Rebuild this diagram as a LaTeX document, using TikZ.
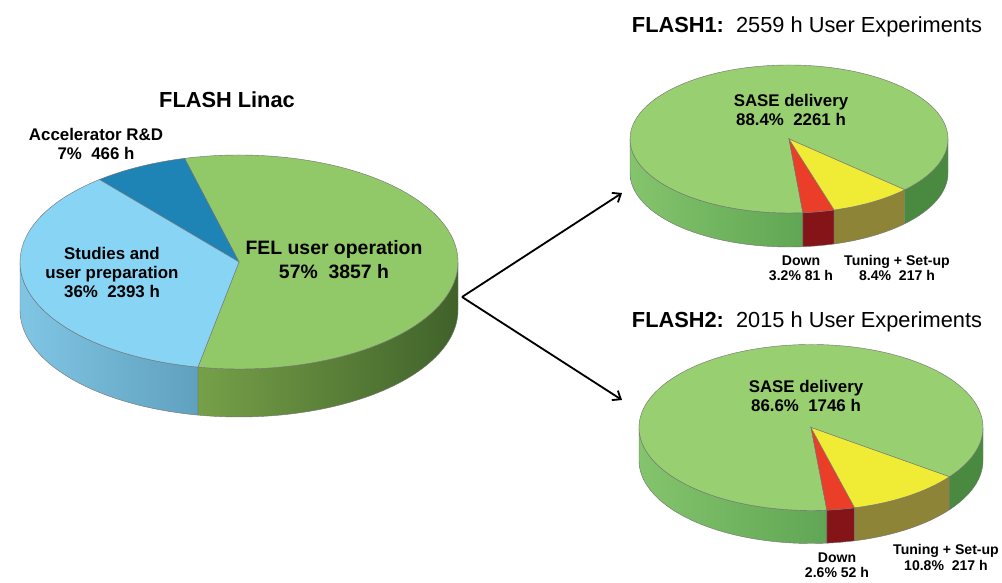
\documentclass[tikz,border=0pt]{standalone}
\usepackage{fontspec}
\setmainfont{Liberation Sans}
\usepackage{xcolor}
\usetikzlibrary{arrows.meta}
\definecolor{verde}{RGB}{146,201,104}
\definecolor{verdeclaro}{RGB}{152,207,112}
\definecolor{celeste}{RGB}{136,212,245}
\definecolor{azul}{RGB}{30,132,182}
\definecolor{rojo}{RGB}{234,62,40}
\definecolor{amarillo}{RGB}{240,235,52}
\definecolor{ladoceleste1}{RGB}{128,198,228}
\definecolor{ladoceleste2}{RGB}{88,152,182}
\definecolor{ladoverde1}{RGB}{118,160,72}
\definecolor{ladoverde2}{RGB}{64,98,42}
\definecolor{ladoclaro1}{RGB}{132,196,108}
\definecolor{ladoclaro2}{RGB}{96,166,84}
\definecolor{ladooscuro}{RGB}{74,138,64}
\definecolor{rojooscuro}{RGB}{132,20,24}
\definecolor{oliva}{RGB}{142,132,56}
% porcion de la tapa: centro, rx, ry, inicio, fin, color
\newcommand{\cuna}[6]{\filldraw[fill=#6, borde] (#1) -- ++(#4:#2 and #3)
  arc[start angle=#4, end angle=#5, x radius=#2, y radius=#3] -- cycle;}
% lado del cilindro: centro, rx, ry, alto, inicio, fin, relleno
\newcommand{\lado}[7]{\path[#7, borde] (#1) ++(#5:#2 and #3)
  arc[start angle=#5, end angle=#6, x radius=#2, y radius=#3] -- ++(0,-#4)
  arc[start angle=#6, end angle=#5, x radius=#2, y radius=#3] -- cycle;}

\begin{document}
\begin{tikzpicture}[x=0.025cm, y=0.025cm, ->, >={Straight Barb[length=5pt, width=8pt]},
  borde/.style={draw=black!55, line width=0.3pt},
  titulo/.style={font=\fontsize{15.5}{18}\selectfont},
  grande/.style={align=center, font=\bfseries\fontsize{13.8}{17}\selectfont},
  medio/.style={align=center, font=\bfseries\fontsize{12}{13.8}\selectfont},
  chico/.style={align=center, font=\bfseries\fontsize{10}{10.8}\selectfont},
  flecha/.style={line width=1.3pt}]
\useasboundingbox (0,0) rectangle (1002,583);

% Tarta FLASH Linac
\coordinate (c0) at (239,321);
\lado{c0}{219}{107}{48}{180}{259.2}{left color=ladoceleste1, right color=ladoceleste2}
\lado{c0}{219}{107}{48}{259.2}{360}{left color=ladoverde1, right color=ladoverde2}
\cuna{c0}{219}{107}{-100.8}{104.4}{verde}
\cuna{c0}{219}{107}{104.4}{129.6}{azul}
\cuna{c0}{219}{107}{129.6}{259.2}{celeste}

% Tarta FLASH1
\coordinate (c1) at (789,444);
\lado{c1}{159}{74}{34}{180}{275}{left color=ladoclaro1, right color=ladoclaro2}
\lado{c1}{159}{74}{34}{275}{286.5}{fill=rojooscuro}
\lado{c1}{159}{74}{34}{286.5}{316.7}{fill=oliva}
\lado{c1}{159}{74}{34}{316.7}{360}{fill=ladooscuro}
\cuna{c1}{159}{74}{-43.3}{275}{verdeclaro}
\cuna{c1}{159}{74}{-85}{-73.5}{rojo}
\cuna{c1}{159}{74}{-73.5}{-43.3}{amarillo}

% Tarta FLASH2
\coordinate (c2) at (811,155.5);
\lado{c2}{172}{83}{33}{180}{275.3}{left color=ladoclaro1, right color=ladoclaro2}
\lado{c2}{172}{83}{33}{275.3}{284.7}{fill=rojooscuro}
\lado{c2}{172}{83}{33}{284.7}{323.6}{fill=oliva}
\lado{c2}{172}{83}{33}{323.6}{360}{fill=ladooscuro}
\cuna{c2}{172}{83}{-36.4}{275.3}{verdeclaro}
\cuna{c2}{172}{83}{-84.7}{-75.3}{rojo}
\cuna{c2}{172}{83}{-75.3}{-36.4}{amarillo}

% Textos
\node[titulo, font=\bfseries\fontsize{15.5}{18}\selectfont] (linac) at (227,483) {FLASH Linac};
\node[medio] (accel) at (96,439) {Accelerator R\&D\\7\%~~466 h};
\node[medio] (studies) at (112,310.5) {Studies and\\user preparation\\36\%~~2393 h};
\node[grande] (fel) at (334,323) {FEL user operation\\57\%~~3857 h};

\node[titulo] (flashone) at (807,556) {\textbf{FLASH1:}~~2559 h User Experiments};
\node[medio] (sase1) at (791,473) {SASE delivery\\88.4\%~~2261 h};
\node[chico] (down1) at (801,315) {Down\\3.2\% 81 h};
\node[chico] (tune1) at (897,315) {Tuning + Set-up\\8.4\%~~217 h};

\node[titulo] (flashtwo) at (807,261) {\textbf{FLASH2:}~~2015 h User Experiments};
\node[medio] (sase2) at (806,187) {SASE delivery\\86.6\%~~1746 h};
\node[chico] (down2) at (837,17.5) {Down\\2.6\% 52 h};
\node[chico] (tune2) at (946,25.5) {Tuning + Set-up\\10.8\%~~217 h};

% Flechas
\coordinate (fork) at (462,286);
\coordinate (tip1) at (622,390);
\coordinate (tip2) at (622,183);
\draw[flecha] (fork) -- (tip1);
\draw[flecha] (fork) -- (tip2);
\end{tikzpicture}
\end{document}
